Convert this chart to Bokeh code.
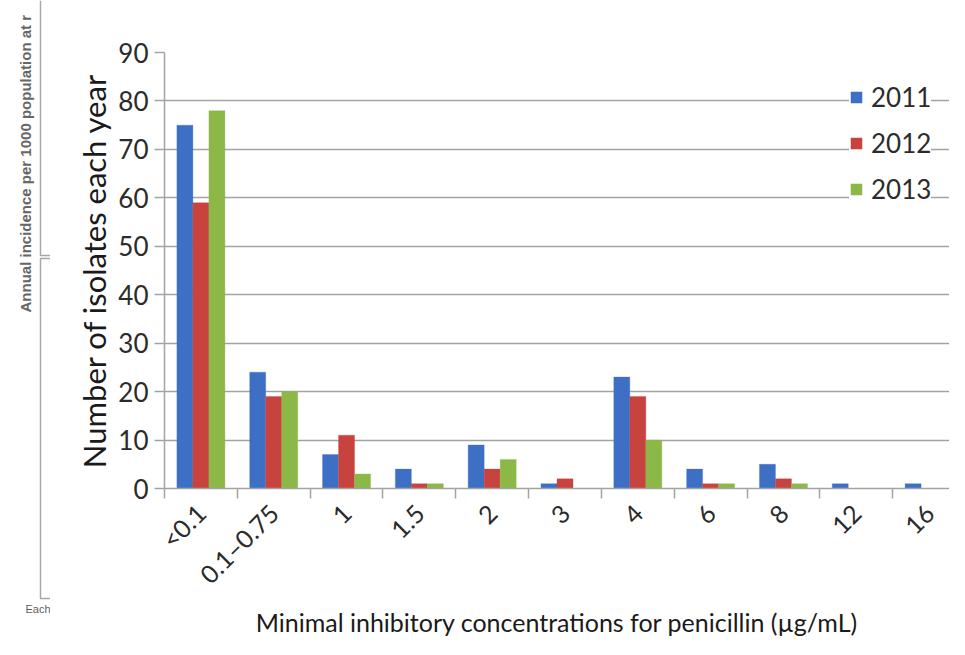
import math
from bokeh.plotting import figure
from bokeh.layouts import row
from bokeh.models import (Range1d, FixedTicker, Legend, LegendItem, ColumnDataSource)
from bokeh.core.properties import value
from bokeh.transform import dodge
from bokeh.embed import file_html
from bokeh.resources import INLINE

categories = ["<0.1", "0.1–0.75", "1", "1.5", "2", "3", "4", "6", "8", "12", "16"]
years = ["2011", "2012", "2013"]
v2011 = [75, 24, 7, 4, 9, 1, 23, 4, 5, 1, 1]
v2012 = [59, 19, 11, 1, 4, 2, 19, 1, 2, 0, 0]
v2013 = [78, 20, 3, 1, 6, 0, 10, 1, 1, 0, 0]
colors = ["#3D70C4", "#C8423E", "#8CB847"]
y_ticks = [0, 10, 20, 30, 40, 50, 60, 70, 80, 90]

# remnants of the neighbouring (cropped) figure on the left edge
remnant_texts = ["Annual incidence per 1000 population at r", "Each"]

centers = [i + 0.5 for i in range(len(categories))]
bounds = [i for i in range(len(categories) + 1)]

src = ColumnDataSource(dict(x=centers, y2011=v2011, y2012=v2012, y2013=v2013))

FONT = "Lato"
GRID = "#a3a3a3"
TXT = "#2b2b2b"
H = 639
LEFT_W = 50

# ---- left strip with cropped remnants ----
side = figure(width=LEFT_W, height=H, output_backend="svg", toolbar_location=None,
              x_range=Range1d(0, LEFT_W), y_range=Range1d(H, 0),
              min_border=0, min_border_left=0, min_border_right=0,
              min_border_top=0, min_border_bottom=0)
side.frame_align = False
side.axis.visible = False
side.grid.visible = False
side.outline_line_color = None
side.border_fill_color = "white"
side.text(x=[33], y=[312], text=[remnant_texts[0]], angle=math.pi / 2,
          text_font=value("Liberation Sans"), text_font_size="15px", text_font_style="bold",
          text_color="#666666", text_baseline="bottom", text_align="left")
side.text(x=[25], y=[608], text=[remnant_texts[1]],
          text_font=value("Liberation Sans"), text_font_size="11px",
          text_color="#5e5e5e", text_baseline="middle", text_align="left")
side.multi_line(xs=[[40, 40, 50], [50, 40, 40, 50]], ys=[[0, 255, 255], [258, 258, 598, 598]],
                line_color="#a8a8a8", line_width=1.5)

# ---- main chart ----
p = figure(width=949 - LEFT_W, height=H, output_backend="svg", toolbar_location=None,
           x_range=Range1d(0, 10.78), y_range=Range1d(0, 90),
           min_border_left=164 - LEFT_W, min_border_right=0, min_border_top=52,
           min_border_bottom=150)
p.frame_align = False
p.outline_line_color = None
p.background_fill_color = "white"
p.border_fill_color = "white"

offsets = [-0.22, 0.0, 0.22]
cols = ["y2011", "y2012", "y2013"]
renderers = []
for col, off, c in zip(cols, offsets, colors):
    r = p.vbar(x=dodge("x", off, range=p.x_range), top=col, width=0.22, source=src,
               fill_color=c, line_color=c, line_alpha=0.6, line_width=0.5)
    renderers.append(r)

# y axis
yax = p.yaxis[0]
yax.ticker = FixedTicker(ticks=y_ticks)
yax.axis_line_color = GRID
yax.axis_line_width = 1.5
yax.major_tick_line_color = GRID
yax.major_tick_line_width = 1.5
yax.major_tick_out = 10
yax.major_tick_in = 0
yax.minor_tick_line_color = None
yax.major_label_text_font = FONT
yax.major_label_text_font_size = "26px"
yax.major_label_text_color = TXT
yax.major_label_standoff = 6
yax.axis_label = "Number of isolates each year"
yax.axis_label_text_font = FONT
yax.axis_label_text_font_size = "31px"
yax.axis_label_text_font_style = "normal"
yax.axis_label_text_color = "#1a1a1a"
yax.axis_label_standoff = 2

# x axis
xax = p.xaxis[0]
xax.ticker = FixedTicker(ticks=centers, minor_ticks=bounds)
xax.major_label_overrides = {c: lab for c, lab in zip(centers, categories)}
xax.axis_line_color = GRID
xax.axis_line_width = 1.5
xax.major_tick_line_color = None
xax.major_tick_out = 0
xax.major_tick_in = 0
xax.minor_tick_line_color = GRID
xax.minor_tick_line_width = 1.5
xax.minor_tick_out = 10
xax.minor_tick_in = 0
xax.major_label_orientation = math.pi / 4
xax.major_label_text_font = FONT
xax.major_label_text_font_size = "25px"
xax.major_label_text_color = TXT
xax.major_label_standoff = 10
xax.axis_label = "Minimal inhibitory concentrations for penicillin (µg/mL)"
xax.axis_label_text_font = FONT
xax.axis_label_text_font_size = "25px"
xax.axis_label_text_font_style = "normal"
xax.axis_label_text_color = "#1a1a1a"
xax.axis_label_standoff = 4

p.xgrid.grid_line_color = None
p.ygrid.grid_line_color = GRID
p.ygrid.grid_line_width = 1.5
p.ygrid.ticker = FixedTicker(ticks=y_ticks)

legend = Legend(items=[LegendItem(label=y, renderers=[r]) for y, r in zip(years, renderers)],
                location=(685, 283))
legend.glyph_width = 14
legend.glyph_height = 14
legend.label_height = 28
legend.spacing = 14
legend.padding = 10
legend.margin = 0
legend.label_standoff = 8
legend.label_text_font = FONT
legend.label_text_font_size = "26px"
legend.label_text_color = TXT
legend.border_line_color = None
legend.background_fill_color = "white"
legend.background_fill_alpha = 1.0
p.add_layout(legend)

layout = row(side, p)
open("out.html", "w").write(file_html(layout, INLINE))
